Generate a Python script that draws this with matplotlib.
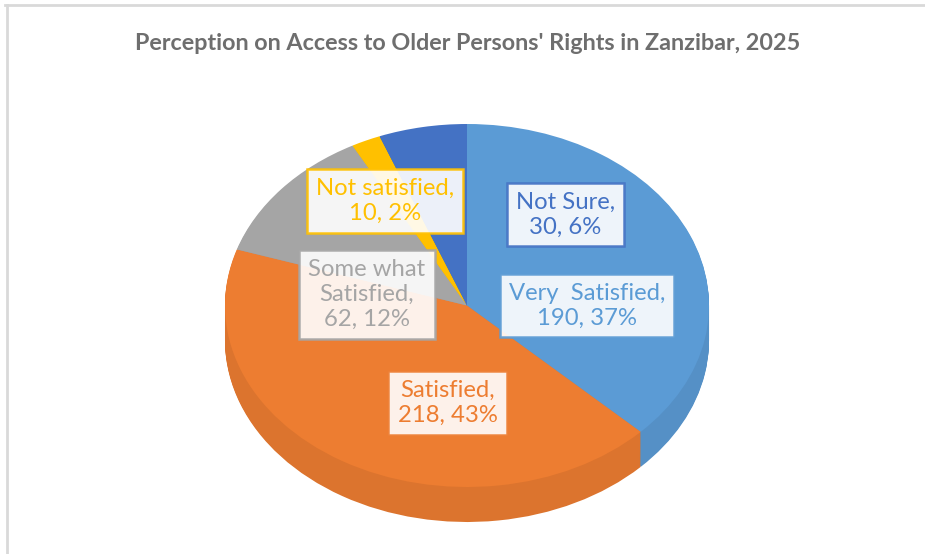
import matplotlib
matplotlib.use("Agg")
import matplotlib.pyplot as plt
import numpy as np
from matplotlib.colors import to_rgb
from matplotlib.lines import Line2D

title = "Perception on Access to Older Persons' Rights in Zanzibar, 2025"
categories = ["Very  Satisfied", "Satisfied", "Some what\nSatisfied", "Not satisfied", "Not Sure"]
counts = [190, 218, 62, 10, 30]
colors = ["#5B9BD5", "#ED7D31", "#A5A5A5", "#FFC000", "#4472C4"]

W, H = 925, 554
fig = plt.figure(figsize=(W / 100, H / 100), dpi=100)
fig.patch.set_facecolor("white")

# pie geometry (pixels)
cx, cy, a, b, depth = 467, 305.5, 242, 181.5, 35
xl, xr, yb, yt = -1.2, 1.2, -1.3, 1.2
left = (cx + xl * a) / W
width = (xr - xl) * a / W
bottom = (H - (cy - yb * b)) / H
height = (yt - yb) * b / H
pax = fig.add_axes([left, bottom, width, height])

def shade(c, f):
    r, g, bb = to_rgb(c)
    return (r * f, g * f, bb * f)

top_colors = [shade(c, 1.0) for c in colors]
side_colors = [shade(c, 0.93) for c in colors]
n = 36
dd = depth / b
for k in range(n, 0, -1):
    off = dd * k / n
    pax.pie(counts, colors=side_colors, startangle=90, counterclock=False,
            center=(0, -off), wedgeprops=dict(linewidth=0))
pax.pie(counts, colors=top_colors, startangle=90, counterclock=False,
        wedgeprops=dict(linewidth=0))
pax.set_aspect("auto")
pax.set_xlim(xl, xr)
pax.set_ylim(yb, yt)
pax.axis("off")

# overlay for texts
oax = fig.add_axes([0, 0, 1, 1], zorder=5)
oax.set_xlim(0, W)
oax.set_ylim(H, 0)
oax.axis("off")
oax.patch.set_alpha(0)

# chart frame
oax.add_line(Line2D([5, W], [4.5, 4.5], color="#D9D9D9", lw=2))
oax.add_line(Line2D([6.5, 6.5], [4.5, H], color="#D9D9D9", lw=2))

oax.text(468, 43, title, ha="center", va="center", fontsize=16.8,
         fontweight="bold", color="#6E6E6E", family=["Lato", "DejaVu Sans"])

total = sum(counts)
label_pos = [(587, 305.5), (447.5, 403), (367, 294.5), (385, 201), (565.5, 214.5)]
for cat, v, c, (x, y) in zip(categories, counts, colors, label_pos):
    pct = round(v / total * 100)
    txt = f"{cat},\n{v}, {pct}%"
    oax.text(x, y, txt, ha="center", va="center", multialignment="center",
             fontsize=17.2, color=c, family=["Lato", "DejaVu Sans"], linespacing=1.22,
             bbox=dict(boxstyle="square,pad=0.38", facecolor="white", alpha=0.9,
                       edgecolor=c, linewidth=1.8))

fig.savefig("out.png", dpi=100)
